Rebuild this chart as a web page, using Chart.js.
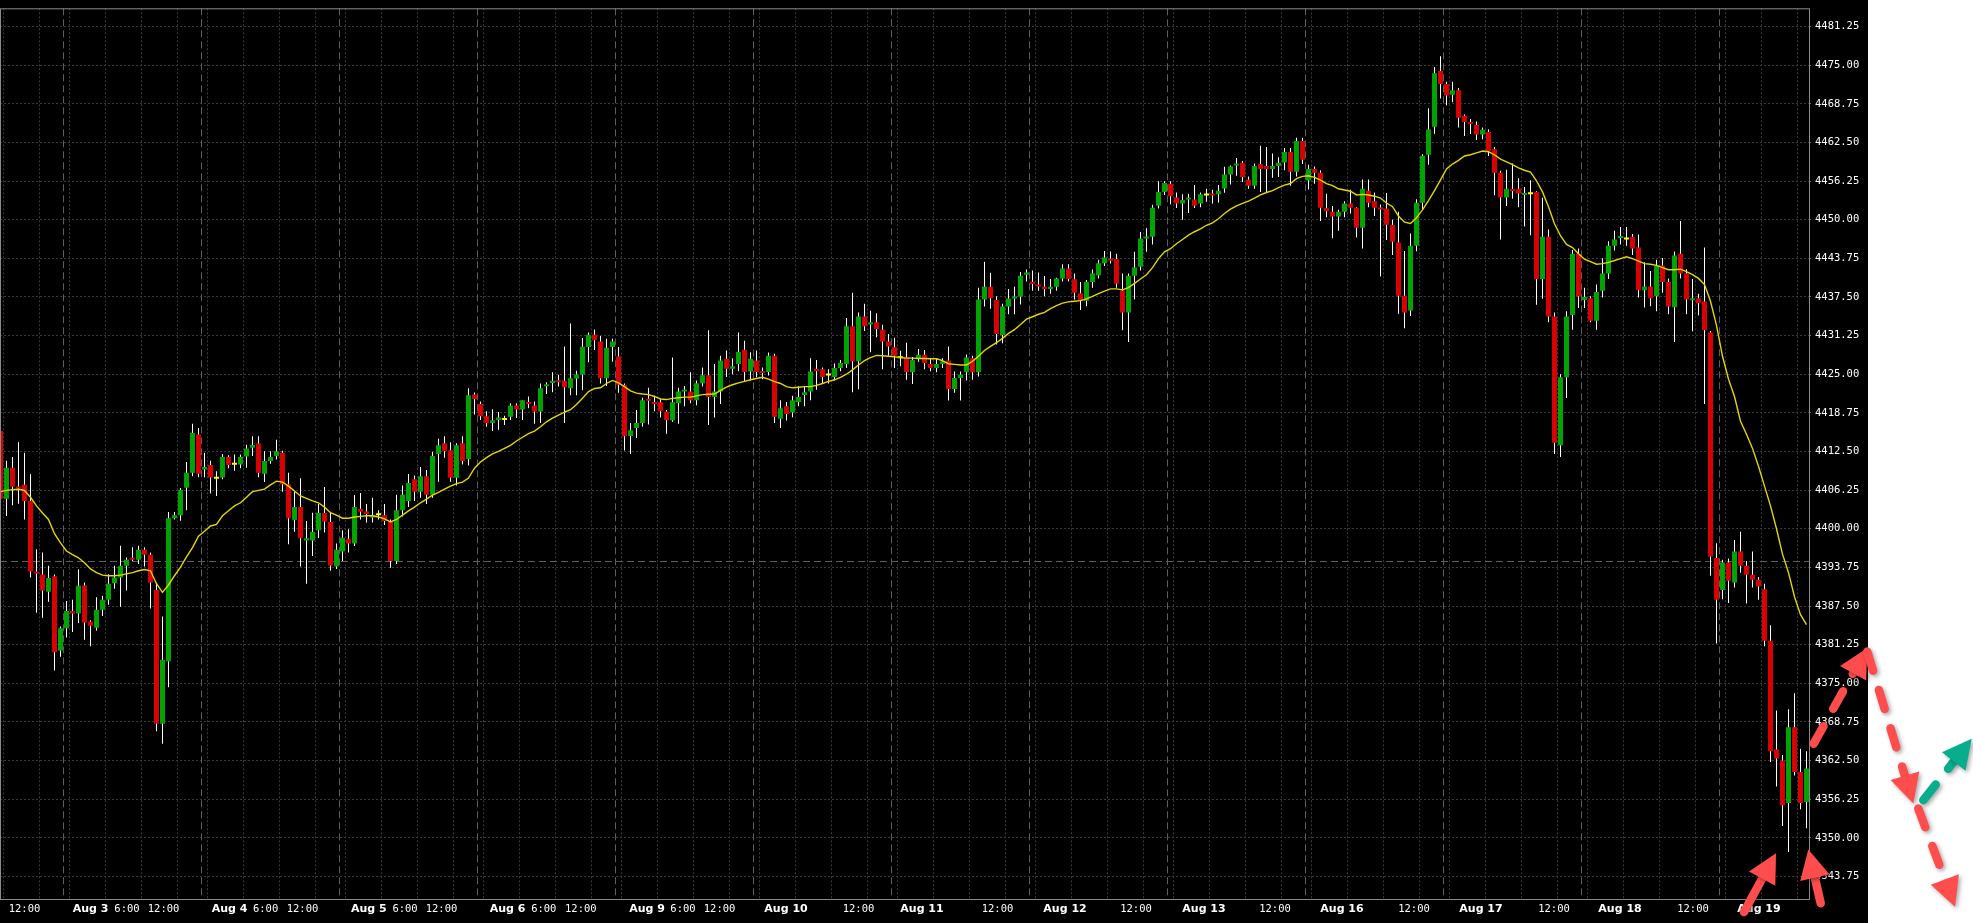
<!DOCTYPE html>
<html>
<head>
<meta charset="utf-8">
<title>Hourly candles</title>
<script src="https://cdn.jsdelivr.net/npm/chart.js@4.4.1/dist/chart.umd.min.js"></script>
<style>
html,body{margin:0;padding:0;background:#ffffff;overflow:hidden;}
#wrap{position:relative;width:1973px;height:923px;}
</style>
</head>
<body>
<div id="wrap"><canvas id="chart"></canvas></div>
<script>
// ---- data (hourly candles, index 0 = Aug 2 12:00) ----
const opens = [
4415.8,4404.85,4409.85,4406.8,4407.1,4404.5,4393.1,4392.6,4389.8,4392.3,
4380.3,4383.9,4386.7,4386.3,4390.8,4385.0,4384.0,4386.9,4388.5,4391.2,
4392.1,4394.0,4395.3,4395.0,4396.6,4395.8,4390.1,4368.45,4378.55,4401.7,
4402.2,4406.65,4409.05,4415.25,4409.6,4410.3,4408.1,4408.3,4411.6,4410.35,
4410.4,4411.7,4413.1,4413.8,4408.9,4410.95,4411.75,4412.3,4407.2,4401.4,
4403.5,4398.1,4398.1,4399.75,4402.55,4401.1,4393.9,4396.3,4398.4,4397.6,
4403.25,4402.8,4401.8,4402.2,4402.2,4401.1,4394.8,4403.0,4404.5,4408.0,
4406.0,4408.5,4405.5,4412.1,4413.85,4412.7,4408.25,4413.85,4411.3,4421.7,
4420.2,4418.2,4417.1,4417.6,4417.6,4418.1,4419.95,4419.3,4420.5,4419.95,
4418.95,4423.05,4423.6,4423.95,4423.95,4422.75,4424.3,4424.95,4429.4,4431.4,
4430.3,4424.35,4429.4,4427.85,4423.25,4415.0,4416.3,4417.1,4421.0,4420.5,
4420.45,4418.95,4417.55,4420.3,4422.2,4422.2,4420.8,4423.55,4424.85,4421.3,
4422.2,4427.5,4425.9,4426.65,4428.95,4425.45,4427.2,4425.45,4425.35,4428.0,
4417.8,4419.8,4418.8,4420.5,4421.65,4422.2,4425.85,4425.8,4424.8,4424.55,
4426.0,4426.65,4432.75,4427.1,4434.35,4433.05,4433.4,4432.2,4430.3,4429.35,
4427.6,4427.7,4425.3,4427.6,4428.15,4426.65,4426.0,4426.65,4427.2,4422.6,
4424.4,4425.3,4427.6,4425.3,4437.1,4439.15,4437.0,4431.35,4435.95,4437.25,
4437.55,4441.1,4439.95,4439.45,4439.15,4438.8,4439.15,4440.5,4442.1,4440.35,
4438.1,4436.9,4439.9,4441.0,4442.95,4443.6,4443.65,4438.55,4435.0,4440.95,
4442.4,4446.95,4447.25,4452.25,4454.5,4455.8,4453.6,4452.6,4453.25,4453.25,
4452.6,4453.9,4454.2,4454.1,4455.05,4457.3,4458.75,4459.2,4456.45,4455.5,
4459.0,4458.7,4458.2,4458.7,4459.25,4460.95,4457.75,4462.75,4456.35,4458.2,
4457.6,4451.9,4451.3,4450.5,4451.3,4452.6,4451.95,4448.7,4454.7,4453.0,
4451.95,4451.8,4449.15,4446.3,4437.7,4435.3,4445.8,4452.75,4460.5,4465.05,
4474.05,4471.95,4470.2,4470.95,4466.8,4465.8,4465.3,4463.8,4464.2,4461.4,
4457.6,4453.6,4455.0,4455.0,4453.98,4454.1,4454.5,4440.4,4447.25,4434.35,
4413.5,4424.5,4434.6,4444.5,4437.0,4437.3,4433.65,4438.5,4441.3,4445.8,
4447.05,4446.8,4447.25,4445.5,4438.6,4439.2,4437.6,4442.6,4439.9,4435.85,
4444.5,4441.3,4436.95,4437.3,4436.75,4431.75,4395.25,4390.1,4394.55,4391.3,
4396.3,4394.0,4392.55,4391.75,4390.2,4381.9,4364.3,4362.5,4355.65,4367.9,
4360.65,4355.8
];
const highs = [
4416.5,4411.0,4411.6,4414.0,4412.3,4408.8,4396.7,4396.15,4394.0,4392.6,
4384.2,4388.3,4388.5,4393.45,4391.3,4385.2,4388.9,4389.15,4392.65,4394.0,
4397.25,4395.35,4397.0,4397.25,4397.0,4396.15,4391.3,4385.8,4402.7,4402.7,
4406.6,4410.8,4417.0,4416.3,4412.3,4411.0,4409.3,4412.1,4411.9,4412.0,
4412.0,4413.6,4414.95,4414.95,4412.55,4412.55,4414.4,4412.6,4409.05,4406.0,
4408.15,4401.25,4402.6,4404.0,4406.75,4402.7,4397.6,4399.75,4399.9,4405.45,
4405.8,4404.0,4405.0,4403.0,4404.0,4401.5,4405.5,4407.0,4408.85,4408.6,
4410.0,4409.5,4412.4,4414.55,4414.95,4414.0,4413.85,4414.95,4422.75,4422.05,
4420.6,4419.0,4419.35,4418.9,4418.3,4420.3,4420.3,4420.8,4421.4,4420.6,
4423.5,4423.7,4425.3,4424.9,4429.5,4433.2,4425.55,4430.85,4431.75,4432.25,
4431.2,4430.75,4430.75,4429.4,4423.5,4417.1,4419.2,4421.2,4422.8,4421.5,
4421.0,4419.2,4427.7,4422.8,4423.1,4425.3,4424.0,4426.1,4432.1,4426.65,
4428.0,4428.85,4427.6,4431.75,4430.4,4428.55,4428.85,4426.1,4428.5,4428.3,
4420.8,4420.5,4421.5,4423.05,4423.05,4427.6,4427.3,4426.1,4425.8,4426.75,
4427.3,4434.1,4438.2,4435.0,4436.4,4435.25,4434.85,4433.0,4431.5,4430.9,
4428.8,4430.1,4427.8,4429.1,4428.9,4427.6,4427.6,4427.6,4429.5,4425.45,
4425.45,4428.2,4428.0,4439.0,4443.2,4441.4,4437.6,4436.4,4438.8,4439.15,
4441.55,4441.95,4441.8,4441.45,4440.9,4440.4,4440.6,4442.8,4442.8,4441.3,
4439.9,4440.25,4441.95,4443.5,4444.95,4444.85,4444.5,4441.3,4441.3,4444.8,
4448.0,4448.6,4452.4,4456.2,4456.2,4456.2,4454.4,4454.1,4454.2,4455.6,
4454.4,4455.0,4454.85,4455.6,4458.55,4458.75,4460.0,4459.5,4457.0,4459.1,
4461.95,4461.75,4460.7,4460.1,4461.6,4461.6,4463.25,4463.25,4458.9,4458.6,
4458.0,4454.2,4452.2,4451.6,4453.0,4454.85,4452.0,4456.5,4456.5,4454.4,
4452.45,4454.3,4450.0,4451.3,4444.95,4447.75,4453.3,4460.6,4468.05,4474.7,
4476.45,4472.3,4472.3,4471.3,4467.0,4466.3,4465.9,4464.9,4464.65,4461.75,
4457.9,4458.1,4459.1,4456.7,4455.3,4456.4,4454.6,4453.55,4448.4,4435.0,
4425.0,4435.2,4445.1,4445.35,4439.0,4437.6,4439.5,4443.75,4446.5,4448.2,
4448.8,4448.8,4447.7,4447.6,4443.1,4441.7,4443.5,4443.8,4440.5,4444.85,
4449.8,4442.0,4440.4,4438.0,4445.5,4432.0,4397.65,4395.0,4395.2,4398.2,
4399.5,4394.8,4396.3,4392.2,4391.1,4384.4,4370.6,4363.4,4370.8,4373.4,
4364.4,4364.0
];
const lows = [
4403.4,4402.05,4403.8,4404.05,4401.5,4392.1,4386.4,4385.6,4388.2,4377.05,
4379.3,4382.4,4383.3,4384.75,4382.05,4381.0,4383.5,4385.9,4387.7,4390.3,
4387.4,4390.0,4394.8,4394.3,4393.9,4387.1,4367.25,4365.2,4374.35,4401.5,
4401.3,4403.0,4408.5,4408.35,4408.35,4405.7,4405.3,4408.0,4409.8,4409.4,
4409.8,4409.85,4411.75,4408.35,4407.55,4410.5,4411.2,4406.0,4397.5,4399.5,
4393.9,4391.1,4395.6,4398.5,4399.4,4393.2,4393.5,4394.8,4396.15,4397.2,
4401.5,4401.0,4401.0,4401.5,4400.6,4393.7,4394.3,4402.0,4403.5,4404.5,
4405.0,4404.0,4405.0,4407.6,4411.5,4407.6,4407.0,4410.4,4410.25,4418.5,
4417.6,4416.5,4415.8,4416.0,4416.8,4417.6,4417.9,4417.6,4419.5,4417.0,
4417.1,4421.8,4422.1,4423.0,4417.1,4421.6,4421.6,4422.4,4426.95,4428.9,
4423.5,4423.1,4427.0,4422.0,4412.66,4412.1,4414.7,4416.5,4416.85,4419.0,
4418.0,4415.35,4417.3,4417.0,4419.8,4420.3,4420.0,4423.0,4416.8,4418.0,
4420.2,4424.55,4425.0,4425.5,4423.75,4424.0,4424.5,4424.2,4424.8,4417.1,
4416.3,4417.5,4418.05,4419.8,4419.8,4420.8,4422.5,4423.5,4423.5,4424.0,
4425.5,4426.0,4422.1,4422.55,4432.0,4428.55,4431.0,4425.8,4428.0,4426.0,
4426.3,4424.1,4423.4,4427.0,4425.8,4425.5,4425.3,4426.0,4420.75,4422.0,
4420.75,4424.0,4424.1,4424.65,4435.95,4435.6,4429.8,4430.0,4434.7,4434.7,
4436.3,4440.0,4438.5,4438.5,4437.6,4438.0,4438.5,4440.0,4440.0,4437.1,
4435.4,4436.0,4439.0,4440.5,4442.5,4442.9,4439.0,4432.1,4430.2,4437.1,
4441.8,4444.8,4446.0,4451.8,4454.0,4452.5,4451.9,4450.0,4451.1,4451.9,
4452.0,4452.9,4452.6,4452.8,4454.35,4455.7,4457.1,4456.1,4455.0,4455.0,
4454.5,4454.35,4456.8,4456.9,4458.0,4455.5,4457.0,4459.0,4454.9,4455.8,
4449.8,4450.4,4447.0,4448.2,4450.4,4451.0,4447.1,4445.35,4452.0,4450.6,
4440.8,4446.7,4444.3,4434.8,4432.45,4434.4,4444.9,4451.6,4458.9,4463.9,
4469.6,4468.5,4469.0,4464.9,4463.55,4463.85,4462.9,4463.0,4460.3,4453.95,
4446.8,4452.2,4453.4,4452.0,4448.9,4447.5,4436.25,4437.2,4433.4,4412.1,
4411.6,4421.15,4432.2,4435.7,4435.7,4433.4,4432.2,4437.4,4440.4,4445.0,
4446.0,4445.8,4444.3,4437.4,4435.8,4436.0,4435.2,4438.2,4434.7,4430.2,
4440.5,4434.7,4431.95,4434.5,4420.2,4392.4,4381.45,4388.6,4388.0,4390.5,
4392.9,4387.9,4390.5,4388.5,4381.0,4362.25,4358.3,4351.9,4347.7,4360.1,
4354.6,4351.55
];
const closes = [
4404.85,4409.85,4406.8,4406.5,4404.5,4393.1,4392.75,4390.0,4392.05,4380.0,
4383.9,4386.7,4386.3,4390.77,4384.85,4384.3,4386.9,4388.5,4391.1,4392.1,
4394.0,4395.0,4395.0,4396.6,4395.8,4391.3,4368.45,4378.8,4401.7,4402.2,
4406.25,4409.05,4415.5,4408.9,4410.0,4408.3,4408.1,4411.6,4410.3,4410.35,
4411.6,4413.0,4413.55,4409.05,4410.95,4411.6,4412.55,4407.2,4401.7,4403.5,
4398.45,4398.45,4399.5,4402.55,4401.15,4394.05,4396.6,4398.55,4397.6,4403.5,
4402.75,4402.4,4402.2,4402.2,4401.25,4394.8,4403.0,4405.5,4407.4,4406.0,
4408.5,4405.5,4411.75,4413.5,4412.55,4408.25,4413.5,4410.95,4421.6,4421.0,
4418.2,4417.05,4417.55,4418.0,4417.6,4419.9,4419.3,4420.8,4420.2,4418.95,
4422.75,4423.3,4423.95,4423.7,4422.9,4424.35,4424.95,4429.45,4431.4,4430.5,
4424.35,4429.3,4430.3,4423.3,4414.98,4415.95,4417.1,4420.8,4420.7,4420.15,
4419.0,4417.55,4420.45,4422.2,4422.5,4420.8,4423.55,4424.85,4421.3,4422.2,
4427.2,4425.9,4426.3,4428.6,4425.35,4427.5,4425.35,4425.2,4428.0,4418.1,
4419.5,4418.55,4420.8,4421.3,4422.1,4425.45,4425.5,4424.55,4424.8,4426.0,
4426.8,4432.75,4427.1,4434.35,4432.75,4433.4,4432.3,4430.3,4429.5,4428.0,
4427.6,4425.3,4427.3,4428.15,4426.8,4426.0,4426.65,4427.1,4422.6,4424.4,
4424.95,4427.7,4425.3,4437.1,4439.15,4437.3,4431.5,4435.95,4437.25,4437.55,
4440.95,4441.45,4439.6,4439.2,4438.8,4439.15,4440.5,4442.1,4440.4,4438.2,
4436.9,4439.95,4441.3,4442.95,4443.9,4443.35,4439.65,4434.98,4440.95,4442.25,
4446.95,4447.25,4451.95,4454.5,4455.95,4453.8,4452.6,4453.2,4453.55,4452.25,
4454.1,4453.9,4453.9,4454.7,4457.3,4458.6,4459.1,4456.9,4455.5,4458.7,
4458.2,4458.2,4458.7,4459.2,4460.95,4457.75,4462.75,4459.7,4458.2,4457.6,
4451.95,4451.35,4450.5,4451.3,4452.6,4451.95,4448.7,4455.0,4452.75,4451.95,
4451.65,4449.2,4446.45,4437.7,4435.0,4445.8,4452.75,4460.35,4464.6,4473.7,
4471.95,4470.1,4470.95,4466.5,4465.8,4465.5,4463.8,4464.55,4461.1,4457.6,
4453.6,4455.0,4454.65,4454.25,4454.24,4454.1,4440.4,4447.25,4434.35,4413.9,
4424.5,4434.35,4444.5,4437.6,4437.5,4433.65,4438.3,4441.3,4445.8,4446.8,
4447.3,4446.8,4445.35,4438.6,4439.2,4437.3,4442.6,4439.9,4435.95,4444.2,
4441.3,4437.1,4437.3,4436.5,4432.1,4395.5,4388.5,4394.55,4391.6,4396.3,
4394.0,4392.55,4391.75,4390.65,4381.9,4364.0,4362.85,4355.25,4367.9,4360.65,
4355.65,4361.2
];
// moving average
const movingAvg = [
4406.0,4406.2,4406.3,4406.4,4406.2,4405.1,4403.7,4402.55,4401.5,4399.2,
4397.7,4396.4,4395.8,4395.3,4394.5,4393.5,4392.9,4392.5,4392.4,4392.4,
4392.5,4392.7,4392.9,4393.2,4393.4,4393.2,4391.1,4389.7,4390.9,4392.4,
4393.8,4395.45,4396.95,4398.8,4399.6,4400.45,4400.7,4402.1,4402.9,4403.7,
4404.2,4405.1,4406.0,4406.2,4406.4,4407.1,4407.7,4407.55,4406.9,4406.1,
4405.3,4404.9,4404.5,4404.2,4403.5,4402.6,4402.2,4401.7,4401.7,4401.9,
4402.0,4402.1,4402.1,4401.9,4401.6,4401.1,4401.5,4402.2,4402.9,4403.5,
4404.2,4404.8,4405.45,4405.9,4406.4,4406.9,4407.3,4407.55,4408.2,4409.8,
4410.8,4411.5,4412.1,4412.5,4413.0,4413.5,4414.2,4414.8,4415.4,4415.8,
4416.5,4417.3,4417.9,4418.4,4418.85,4419.25,4420.1,4421.1,4422.2,4422.7,
4422.8,4423.5,4424.0,4423.6,4423.0,4422.3,4421.95,4421.8,4421.7,4421.4,
4421.0,4420.9,4421.1,4421.2,4421.3,4421.3,4421.5,4421.7,4421.75,4421.8,
4422.4,4422.9,4423.3,4423.6,4423.85,4424.1,4424.3,4424.5,4424.2,4423.8,
4423.5,4423.0,4422.8,4422.9,4423.0,4423.0,4423.2,4423.5,4423.85,4424.1,
4424.5,4425.0,4425.7,4426.5,4427.2,4427.7,4428.05,4428.0,4427.9,4427.8,
4427.7,4427.6,4427.6,4427.55,4427.55,4427.5,4427.5,4427.2,4426.7,4426.6,
4426.5,4426.5,4427.1,4427.9,4428.85,4429.5,4430.1,4430.8,4431.6,4432.2,
4433.05,4433.9,4434.3,4434.7,4435.0,4435.6,4436.1,4436.5,4436.7,4436.8,
4436.9,4437.2,4437.6,4438.05,4438.45,4438.8,4438.8,4438.65,4439.0,4439.7,
4440.4,4441.1,4442.25,4443.7,4444.8,4445.3,4446.1,4446.8,4447.5,4448.05,
4448.5,4449.1,4449.5,4450.15,4451.0,4451.7,4452.25,4452.65,4453.0,4453.5,
4454.0,4454.4,4454.7,4455.2,4455.6,4455.85,4456.65,4457.0,4457.1,4456.85,
4456.4,4455.85,4455.5,4455.0,4454.8,4454.6,4454.0,4454.1,4454.0,4453.8,
4453.5,4452.7,4452.1,4450.6,4449.6,4449.4,4450.3,4451.6,4453.1,4454.7,
4456.45,4458.2,4459.0,4459.6,4460.3,4460.5,4460.8,4461.1,4461.0,4460.5,
4459.8,4459.35,4458.9,4458.4,4458.0,4457.7,4456.3,4454.5,4452.1,4449.35,
4447.4,4446.0,4445.5,4444.5,4443.6,4443.2,4442.8,4442.9,4443.1,4443.4,
4443.7,4444.0,4443.7,4443.3,4442.9,4442.8,4442.6,4442.25,4441.9,4441.9,
4442.0,4441.6,4441.1,4440.5,4439.5,4436.8,4432.9,4427.9,4424.2,4421.4,
4417.4,4415.3,4413.0,4410.1,4406.9,4403.7,4400.0,4395.9,4392.9,4389.0,
4386.1,4384.5
];
// first candle index of each trading day (Aug 2 partially visible)
const dayStarts = [-12,11,34,57,80,103,126,149,172,195,218,241,264,287];
// x tick labels and where they sit (in candle-index units)
const xTickText = ['12:00','Aug 3','6:00','12:00','Aug 4','6:00','12:00','Aug 5','6:00','12:00',
  'Aug 6','6:00','12:00','Aug 9','6:00','12:00','Aug 10','12:00','Aug 11','12:00',
  'Aug 12','12:00','Aug 13','12:00','Aug 16','12:00','Aug 17','12:00','Aug 18','12:00','Aug 19'];
const xTickPos = [4.0,15.02,21.08,27.18,38.17,44.18,50.33,61.38,67.42,73.5,
  84.52,90.55,96.72,107.75,113.75,119.85,130.92,143.0,153.58,166.17,
  177.42,189.25,200.58,212.42,223.58,235.58,246.75,258.92,269.92,282.08,293.08];
const yTicks = [4343.75,4350.00,4356.25,4362.50,4368.75,4375.00,4381.25,4387.50,4393.75,4400.00,
  4406.25,4412.50,4418.75,4425.00,4431.25,4437.50,4443.75,4450.00,4456.25,4462.50,
  4468.75,4475.00,4481.25];
const refLevel = [4394.64];
// hand-drawn annotation arrows, anchored in (candle index, price)
const arrowFrom = [[290.58,4338.0],[303.37,4339.41],[302.2,4365.23],[311.13,4380.12],[319.63,4354.74],[320.47,4356.08]];
const arrowTo   = [[295.92,4347.52],[301.3,4348.12],[311.13,4380.72],[318.8,4355.55],[325.75,4338.86],[328.53,4366.03]];
const arrowKind = ['solid-red','solid-red','dash-red','dash-red','dash-red','dash-green'];

// ---- chart ----
const UP = '#00a400', DOWN = '#d80000', DOJI = '#ffff00';
const N = closes.length;
const idx = Array.from({length: N}, (_, i) => i);

function drawArrow(ctx, x0, y0, x1, y1, color, dashed) {
  const dx = x1 - x0, dy = y1 - y0, len = Math.hypot(dx, dy);
  const ux = dx / len, uy = dy / len;
  const headL = 29, headW = 15;
  const bx = x1 - ux * headL, by = y1 - uy * headL;
  ctx.save();
  ctx.shadowColor = 'rgba(0,0,0,0.35)';
  ctx.shadowBlur = 4; ctx.shadowOffsetX = 2; ctx.shadowOffsetY = 2;
  ctx.strokeStyle = color; ctx.fillStyle = color;
  ctx.lineWidth = 8.5; ctx.lineCap = 'round';
  ctx.setLineDash(dashed ? [20, 20] : []);
  ctx.beginPath();
  ctx.moveTo(x0, y0);
  ctx.lineTo(x1 - ux * headL * 0.7, y1 - uy * headL * 0.7);
  ctx.stroke();
  ctx.setLineDash([]);
  ctx.beginPath();
  ctx.moveTo(x1, y1);
  ctx.lineTo(bx - uy * headW, by + ux * headW);
  ctx.lineTo(bx + uy * headW, by - ux * headW);
  ctx.closePath();
  ctx.fill();
  ctx.restore();
}

const decorPlugin = {
  id: 'decor',
  beforeDraw(chart) {
    const {ctx} = chart, ys = chart.scales.y;
    ctx.save();
    ctx.fillStyle = '#000000';
    ctx.fillRect(0, 0, ys.right, chart.height);
    ctx.restore();
  },
  beforeDatasetsDraw(chart) {
    const {ctx, chartArea: a} = chart, xs = chart.scales.x, ys = chart.scales.y;
    ctx.save();
    ctx.lineWidth = 1;
    // horizontal dotted grid
    ctx.strokeStyle = '#3a3a3a';
    ctx.setLineDash([2, 2]);
    yTicks.forEach(v => {
      const py = Math.floor(ys.getPixelForValue(v)) + 0.5;
      ctx.beginPath(); ctx.moveTo(a.left, py); ctx.lineTo(a.right, py); ctx.stroke();
    });
    // vertical dotted lines every 6 hours
    dayStarts.forEach(s => {
      [0.5, 6.5, 12.5, 18.5].forEach(o => {
        const v = s + o;
        if (v < xs.min || v > xs.max) return;
        const px = Math.floor(xs.getPixelForValue(v)) + 0.5;
        ctx.beginPath(); ctx.moveTo(px, a.top); ctx.lineTo(px, a.bottom); ctx.stroke();
      });
    });
    // day separators and reference level, long dashes
    ctx.strokeStyle = '#5e5e5e';
    ctx.setLineDash([7, 4]);
    dayStarts.forEach(s => {
      const v = s - 0.5;
      if (v < xs.min || v > xs.max) return;
      const px = Math.floor(xs.getPixelForValue(v)) + 0.5;
      ctx.beginPath(); ctx.moveTo(px, a.top); ctx.lineTo(px, a.bottom); ctx.stroke();
    });
    refLevel.forEach(v => {
      const py = Math.floor(ys.getPixelForValue(v)) + 0.5;
      ctx.beginPath(); ctx.moveTo(a.left, py); ctx.lineTo(a.right, py); ctx.stroke();
    });
    ctx.restore();
  },
  afterDatasetsDraw(chart) {
    const {ctx, chartArea: a} = chart;
    ctx.save();
    ctx.strokeStyle = '#8a8a8a';
    ctx.lineWidth = 1;
    ctx.setLineDash([]);
    ctx.strokeRect(a.left + 0.5, a.top + 0.5, a.right - a.left, a.bottom - a.top);
    ctx.restore();
  },
  afterDraw(chart) {
    const {ctx} = chart, xs = chart.scales.x, ys = chart.scales.y;
    arrowFrom.forEach((f, k) => {
      const t = arrowTo[k];
      const kind = arrowKind[k];
      const color = kind.endsWith('green') ? '#08ad8e' : '#ff4d4d';
      drawArrow(ctx, xs.getPixelForValue(f[0]), ys.getPixelForValue(f[1]),
        xs.getPixelForValue(t[0]), ys.getPixelForValue(t[1]), color, kind.startsWith('dash'));
    });
  }
};

new Chart(document.getElementById('chart'), {
  type: 'bar',
  data: {
    datasets: [
      {
        type: 'line', label: 'MA',
        data: idx.map(i => ({x: i, y: movingAvg[i]})),
        borderColor: '#e4d600', borderWidth: 1.4,
        pointRadius: 0, tension: 0, order: 1
      },
      {
        type: 'bar', label: 'body',
        data: idx.map(i => ({x: i, y: [opens[i], closes[i]]})),
        backgroundColor: idx.map(i => closes[i] > opens[i] ? UP : (closes[i] < opens[i] ? DOWN : DOJI)),
        barThickness: 5, minBarLength: 2, grouped: false,
        borderWidth: 0, inflateAmount: 0, order: 2
      },
      {
        type: 'bar', label: 'wick',
        data: idx.map(i => ({x: i, y: [lows[i], highs[i]]})),
        backgroundColor: '#ffffff',
        barThickness: 1, grouped: false,
        borderWidth: 0, inflateAmount: 0, order: 3
      }
    ]
  },
  options: {
    responsive: true,
    maintainAspectRatio: false,
    animation: false,
    devicePixelRatio: 1,
    layout: {padding: {left: 0, top: 6, right: 105, bottom: 0}},
    plugins: {legend: {display: false}, tooltip: {enabled: false}},
    scales: {
      x: {
        type: 'linear', min: -0.0833, max: 301.4167, offset: false,
        grid: {display: false, drawTicks: false, tickLength: 0}, border: {display: false},
        afterBuildTicks: s => { s.ticks = xTickPos.map(v => ({value: v})); },
        afterFit: s => { s.height = 24; },
        ticks: {
          autoSkip: false, maxRotation: 0, minRotation: 0, padding: 4, color: '#ffffff',
          callback: (v, i) => xTickText[i],
          font: ctx => (xTickText[ctx.index] || '').startsWith('Aug')
            ? {family: 'DejaVu Sans', size: 11, weight: 'bold'}
            : {family: 'DejaVu Sans Mono', size: 10.5}
        }
      },
      y: {
        type: 'linear', position: 'right', min: 4340.1, max: 4484.2,
        grid: {drawOnChartArea: false, drawTicks: true, tickLength: 4, tickColor: '#6a6a6a', tickBorderDash: [2, 2]},
        border: {display: false},
        afterBuildTicks: s => { s.ticks = yTicks.map(v => ({value: v})); },
        afterFit: s => { s.width = 59; },
        ticks: {
          padding: 2, color: '#ffffff',
          font: {family: 'DejaVu Sans Mono', size: 10.5},
          callback: v => Number(v).toFixed(2)
        }
      }
    }
  },
  plugins: [decorPlugin]
});
</script>
</body>
</html>
